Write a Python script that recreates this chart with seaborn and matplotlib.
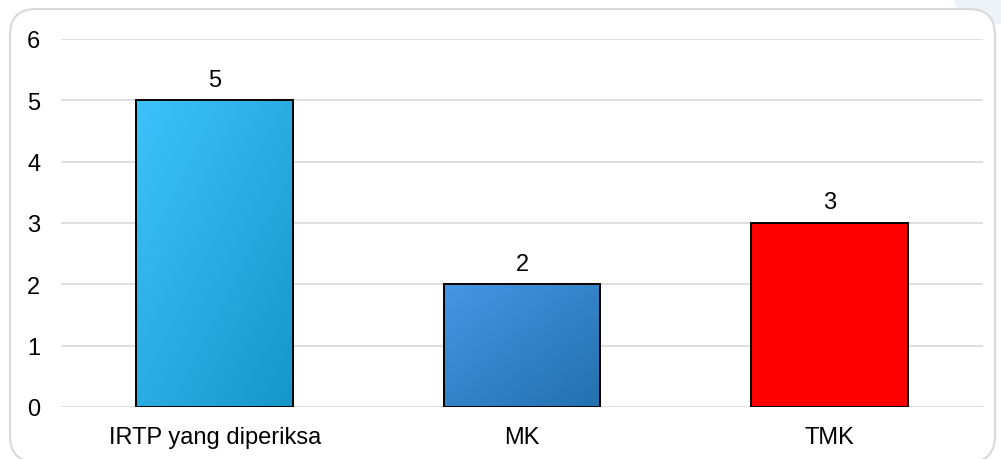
import numpy as np
import pandas as pd
import matplotlib
matplotlib.use("Agg")
import matplotlib.pyplot as plt
import seaborn as sns
from matplotlib.colors import LinearSegmentedColormap
from matplotlib.patches import FancyBboxPatch, Ellipse

# data
categories = ["IRTP yang diperiksa", "MK", "TMK"]
counts = [5, 2, 3]

# (top-left, bottom-right) gradient colours per bar
bar_colors = [("#3DC2FB", "#1597C9"), ("#4596E4", "#2370AE"), ("#FF0000", "#FF0000")]

sns.set_theme(style="white")
plt.rcParams["font.family"] = ["Liberation Sans", "DejaVu Sans"]

df = pd.DataFrame({"kategori": categories, "jumlah": counts})

W, H = 1001, 460
fig = plt.figure(figsize=(W / 100, H / 100), dpi=100)

# background frame with rounded corners, drawn in pixel units
bg = fig.add_axes([0, 0, 1, 1])
bg.set_xlim(0, W)
bg.set_ylim(H, 0)
bg.axis("off")
bg.add_patch(Ellipse((1000, -5), 95, 60, facecolor="#EEF3FA", edgecolor="none"))
bg.add_patch(FancyBboxPatch((10, 10), 985, 453,
                            boxstyle="round,pad=0,rounding_size=26",
                            facecolor="white", edgecolor="#D9D9D9", linewidth=1.5))

ax = fig.add_axes([61 / W, (H - 408) / H, (983 - 61) / W, (408 - 40) / H])
ax.patch.set_alpha(0)

sns.barplot(data=df, x="kategori", y="jumlah", hue="kategori",
            palette=[c[0] for c in bar_colors], legend=False, saturation=1,
            width=0.51, edgecolor="black", linewidth=1.4, ax=ax, zorder=3)

# diagonal gradient fill inside each bar
gy, gx = np.mgrid[0:1:100j, 0:1:100j]
grad = (gx + gy) / 2
for patch, (c1, c2) in zip(ax.patches, bar_colors):
    if c1 == c2:
        continue
    x0, y0 = patch.get_x(), patch.get_y()
    w, h = patch.get_width(), patch.get_height()
    cmap = LinearSegmentedColormap.from_list("g", [c1, c2])
    im = ax.imshow(grad, cmap=cmap, extent=[x0, x0 + w, y0, y0 + h],
                   origin="upper", aspect="auto", zorder=2.5, interpolation="bilinear")
    im.set_clip_path(patch)
    patch.set_facecolor("none")

ax.set_xlim(-0.5, 2.5)
ax.set_ylim(0, 6)
ax.set_yticks(range(0, 7))
ax.yaxis.grid(True, color="#D9D9D9", linewidth=1.2)
ax.set_axisbelow(True)
for s in ax.spines.values():
    s.set_visible(False)
ax.tick_params(axis="y", length=0, pad=15, labelsize=17, labelcolor="black")
ax.tick_params(axis="x", length=0, pad=14, labelsize=17, labelcolor="black")
ax.set_xlabel("")
ax.set_ylabel("")

for i, v in enumerate(counts):
    ax.annotate(str(v), (i, v), xytext=(0, 7), textcoords="offset points",
                ha="center", va="bottom", fontsize=17, color="black")

fig.savefig("out.png", dpi=100)
